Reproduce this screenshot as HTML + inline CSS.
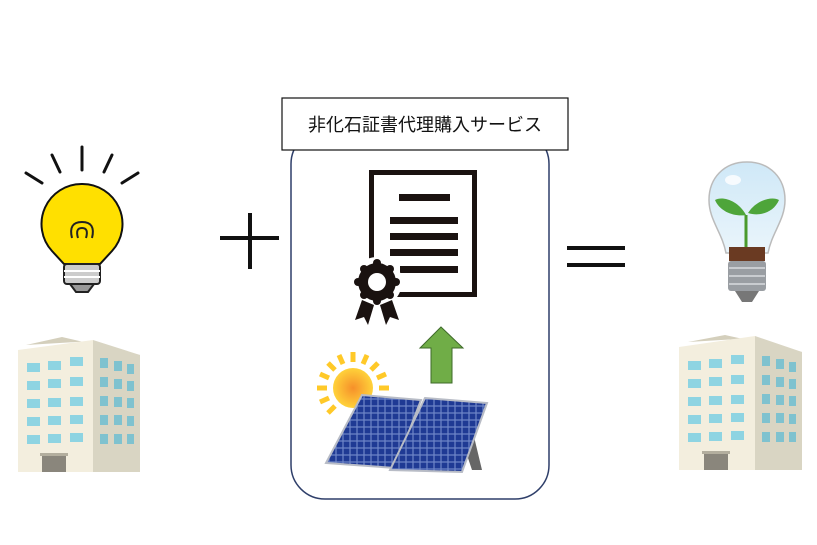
<!DOCTYPE html>
<html><head><meta charset="utf-8"><style>
html,body{margin:0;padding:0;background:#fff;}
svg{display:block}
</style></head><body>
<svg width="817" height="545" viewBox="0 0 817 545" xmlns="http://www.w3.org/2000/svg">
<defs>
<radialGradient id="sun" cx="50%" cy="50%" r="50%"><stop offset="0" stop-color="#f6902a"/><stop offset="1" stop-color="#ffd23a"/></radialGradient>
<pattern id="cells" width="7" height="7" patternUnits="userSpaceOnUse"><rect width="7" height="7" fill="#6f86c8"/><rect x="0.6" y="0.6" width="5.8" height="5.8" fill="#1f3a94"/></pattern>
<linearGradient id="glass" x1="0" y1="0" x2="0" y2="1"><stop offset="0" stop-color="#cfe8f7"/><stop offset="1" stop-color="#eaf5fb"/></linearGradient>
</defs>

<!-- left bulb -->
<g stroke="#111" stroke-width="3" stroke-linecap="round">
<line x1="26" y1="173" x2="42" y2="183"/>
<line x1="52" y1="155" x2="60" y2="172"/>
<line x1="82" y1="147" x2="82" y2="170"/>
<line x1="112" y1="155" x2="104" y2="172"/>
<line x1="138" y1="173" x2="122" y2="183"/>
</g>
<path d="M82 184 A40 40 0 0 1 112 251 L100 264 L64 264 L52 251 A40 40 0 0 1 82 184 Z" fill="#ffe000" stroke="#111" stroke-width="2"/>
<path d="M72 238 q-4 -16 10 -16 q14 0 10 16 M78 238 q-3 -10 4 -10 q7 0 4 10" fill="none" stroke="#222" stroke-width="2"/>
<rect x="64" y="264" width="36" height="20" rx="3" fill="#ccc" stroke="#222" stroke-width="2"/>
<line x1="64" y1="271" x2="100" y2="271" stroke="#fff" stroke-width="2"/>
<line x1="64" y1="277" x2="100" y2="277" stroke="#fff" stroke-width="2"/>
<path d="M70 284 L94 284 L88 292 L76 292 Z" fill="#999" stroke="#222" stroke-width="2"/>

<!-- left building -->
<g>
<polygon points="26,345 62,337 140,355 140,472 93,472 93,341" fill="#d4cfbc"/>
<polygon points="18,350 93,340 93,472 18,472" fill="#f3eede"/>
<polygon points="93,340 140,355 140,472 93,472" fill="#d9d5c3"/>
<g fill="#8ed4e2">
<rect x="27" y="363" width="13" height="9"/><rect x="48" y="361" width="13" height="9"/><rect x="70" y="357" width="13" height="9"/>
<rect x="27" y="381" width="13" height="9"/><rect x="48" y="379" width="13" height="9"/><rect x="70" y="377" width="13" height="9"/>
<rect x="27" y="399" width="13" height="9"/><rect x="48" y="398" width="13" height="9"/><rect x="70" y="397" width="13" height="9"/>
<rect x="27" y="417" width="13" height="9"/><rect x="48" y="416" width="13" height="9"/><rect x="70" y="415" width="13" height="9"/>
<rect x="27" y="435" width="13" height="9"/><rect x="48" y="434" width="13" height="9"/><rect x="70" y="433" width="13" height="9"/>
</g>
<g fill="#7fc2cf">
<rect x="100" y="358" width="8" height="10"/><rect x="114" y="361" width="8" height="10"/><rect x="127" y="364" width="7" height="10"/>
<rect x="100" y="377" width="8" height="10"/><rect x="114" y="379" width="8" height="10"/><rect x="127" y="381" width="7" height="10"/>
<rect x="100" y="396" width="8" height="10"/><rect x="114" y="397" width="8" height="10"/><rect x="127" y="398" width="7" height="10"/>
<rect x="100" y="415" width="8" height="10"/><rect x="114" y="415" width="8" height="10"/><rect x="127" y="416" width="7" height="10"/>
<rect x="100" y="434" width="8" height="10"/><rect x="114" y="434" width="8" height="10"/><rect x="127" y="434" width="7" height="10"/>
</g>
<rect x="42" y="455" width="24" height="17" fill="#8a867c"/><rect x="40" y="453" width="28" height="3" fill="#b3ae9e"/>
</g>

<!-- plus -->
<rect x="220" y="236" width="59" height="4" fill="#111"/>
<rect x="248" y="213" width="4" height="56" fill="#111"/>

<!-- rounded box -->
<rect x="291" y="130" width="258" height="369" rx="34" fill="#fff" stroke="#2f3f6a" stroke-width="1.5"/>
<rect x="282" y="98" width="286" height="52" fill="#fff" stroke="#111" stroke-width="1.2"/>
<text x="425" y="131" text-anchor="middle" font-family="'Liberation Sans','Noto Sans CJK JP',sans-serif" font-size="18" fill="#111">非化石証書代理購入サービス</text>

<!-- certificate -->
<rect x="371.5" y="172.5" width="103" height="122" fill="#fff" stroke="#1a1210" stroke-width="5"/>
<g fill="#1a1210">
<rect x="399" y="194" width="51" height="7"/>
<rect x="390" y="217" width="68" height="7"/>
<rect x="390" y="233" width="68" height="7"/>
<rect x="390" y="249" width="68" height="7"/>
<rect x="400" y="266" width="58" height="7"/>
</g>
<circle cx="377" cy="282" r="25" fill="#fff"/>
<g fill="#1a1210">
<path d="M362 300 L355 320 L364 317 L368 325 L374 305 Z"/>
<path d="M392 300 L399 320 L390 317 L386 325 L380 305 Z"/>
<circle cx="377" cy="282" r="19"/>
<g transform="translate(377 282)">
<circle cx="0" cy="-19" r="4"/><circle cx="13" cy="-13" r="4"/><circle cx="19" cy="0" r="4"/><circle cx="13" cy="13" r="4"/>
<circle cx="0" cy="19" r="4"/><circle cx="-13" cy="13" r="4"/><circle cx="-19" cy="0" r="4"/><circle cx="-13" cy="-13" r="4"/>
</g>
</g>
<circle cx="377" cy="282" r="9" fill="#fff"/>

<!-- green arrow -->
<polygon points="441,327 463,348 452,348 452,383 431,383 431,348 420,348" fill="#70ad47" stroke="#3e6a2a" stroke-width="1"/>

<!-- sun -->
<g stroke="#ffc928" stroke-width="5" stroke-linecap="butt">
<g transform="translate(353 388)">
<line x1="0" y1="-26" x2="0" y2="-36"/><line x1="0" y1="26" x2="0" y2="36"/>
<line x1="-26" y1="0" x2="-36" y2="0"/><line x1="26" y1="0" x2="36" y2="0"/>
<line x1="18" y1="-18" x2="25" y2="-25"/><line x1="-18" y1="-18" x2="-25" y2="-25"/>
<line x1="18" y1="18" x2="25" y2="25"/><line x1="-18" y1="18" x2="-25" y2="25"/>
<line x1="10" y1="-24" x2="14" y2="-33"/><line x1="-10" y1="-24" x2="-14" y2="-33"/>
<line x1="24" y1="-10" x2="33" y2="-14"/><line x1="-24" y1="-10" x2="-33" y2="-14"/>
<line x1="24" y1="10" x2="33" y2="14"/><line x1="-24" y1="10" x2="-33" y2="14"/>
</g>
</g>
<circle cx="353" cy="388" r="20" fill="url(#sun)"/>

<!-- stand -->
<polygon points="455,420 470,420 482,470 472,470 462,440 448,470 440,470" fill="#666"/>
<!-- panels -->
<polygon points="362,395 421,400 395,468 326,463" fill="url(#cells)" stroke="#b8bcc6" stroke-width="2"/>
<polygon points="425,398 487,403 462,472 390,470" fill="url(#cells)" stroke="#b8bcc6" stroke-width="2"/>

<!-- equals -->
<rect x="567" y="246" width="58" height="4" fill="#111"/>
<rect x="567" y="263" width="58" height="4" fill="#111"/>

<!-- right bulb -->
<path d="M747 162 C770 162 785 178 785 200 C785 220 772 232 768 253 L726 253 C722 232 709 220 709 200 C709 178 724 162 747 162 Z" fill="url(#glass)" stroke="#bbb" stroke-width="1.5"/>
<ellipse cx="733" cy="180" rx="8" ry="5" fill="#fff" opacity="0.8"/>
<path d="M746 248 L746 215" stroke="#4a9a2c" stroke-width="3"/>
<path d="M746 215 C738 200 722 196 715 200 C720 212 735 217 746 215 Z" fill="#4ea53a"/>
<path d="M748 213 C756 200 772 196 779 200 C774 212 760 217 748 213 Z" fill="#4ea53a"/>
<rect x="729" y="247" width="36" height="14" fill="#6a3a22"/>
<rect x="728" y="261" width="38" height="30" rx="3" fill="#9a9ea3"/>
<g stroke="#c9ccd0" stroke-width="2"><line x1="729" y1="268" x2="765" y2="268"/><line x1="729" y1="276" x2="765" y2="276"/><line x1="729" y1="284" x2="765" y2="284"/></g>
<path d="M735 291 L759 291 L752 302 L742 302 Z" fill="#777"/>

<!-- right building -->
<g>
<polygon points="688,342 725,335 802,352 802,470 755,470 755,338" fill="#d4cfbc"/>
<polygon points="679,347 755,336 755,470 679,470" fill="#f3eede"/>
<polygon points="755,336 802,352 802,470 755,470" fill="#d9d5c3"/>
<g fill="#8ed4e2">
<rect x="688" y="361" width="13" height="9"/><rect x="709" y="359" width="13" height="9"/><rect x="731" y="355" width="13" height="9"/>
<rect x="688" y="379" width="13" height="9"/><rect x="709" y="377" width="13" height="9"/><rect x="731" y="375" width="13" height="9"/>
<rect x="688" y="397" width="13" height="9"/><rect x="709" y="396" width="13" height="9"/><rect x="731" y="395" width="13" height="9"/>
<rect x="688" y="415" width="13" height="9"/><rect x="709" y="414" width="13" height="9"/><rect x="731" y="413" width="13" height="9"/>
<rect x="688" y="433" width="13" height="9"/><rect x="709" y="432" width="13" height="9"/><rect x="731" y="431" width="13" height="9"/>
</g>
<g fill="#7fc2cf">
<rect x="762" y="356" width="8" height="10"/><rect x="776" y="359" width="8" height="10"/><rect x="789" y="362" width="7" height="10"/>
<rect x="762" y="375" width="8" height="10"/><rect x="776" y="377" width="8" height="10"/><rect x="789" y="379" width="7" height="10"/>
<rect x="762" y="394" width="8" height="10"/><rect x="776" y="395" width="8" height="10"/><rect x="789" y="396" width="7" height="10"/>
<rect x="762" y="413" width="8" height="10"/><rect x="776" y="413" width="8" height="10"/><rect x="789" y="414" width="7" height="10"/>
<rect x="762" y="432" width="8" height="10"/><rect x="776" y="432" width="8" height="10"/><rect x="789" y="432" width="7" height="10"/>
</g>
<rect x="704" y="453" width="24" height="17" fill="#8a867c"/><rect x="702" y="451" width="28" height="3" fill="#b3ae9e"/>
</g>
</svg>
</body></html>
